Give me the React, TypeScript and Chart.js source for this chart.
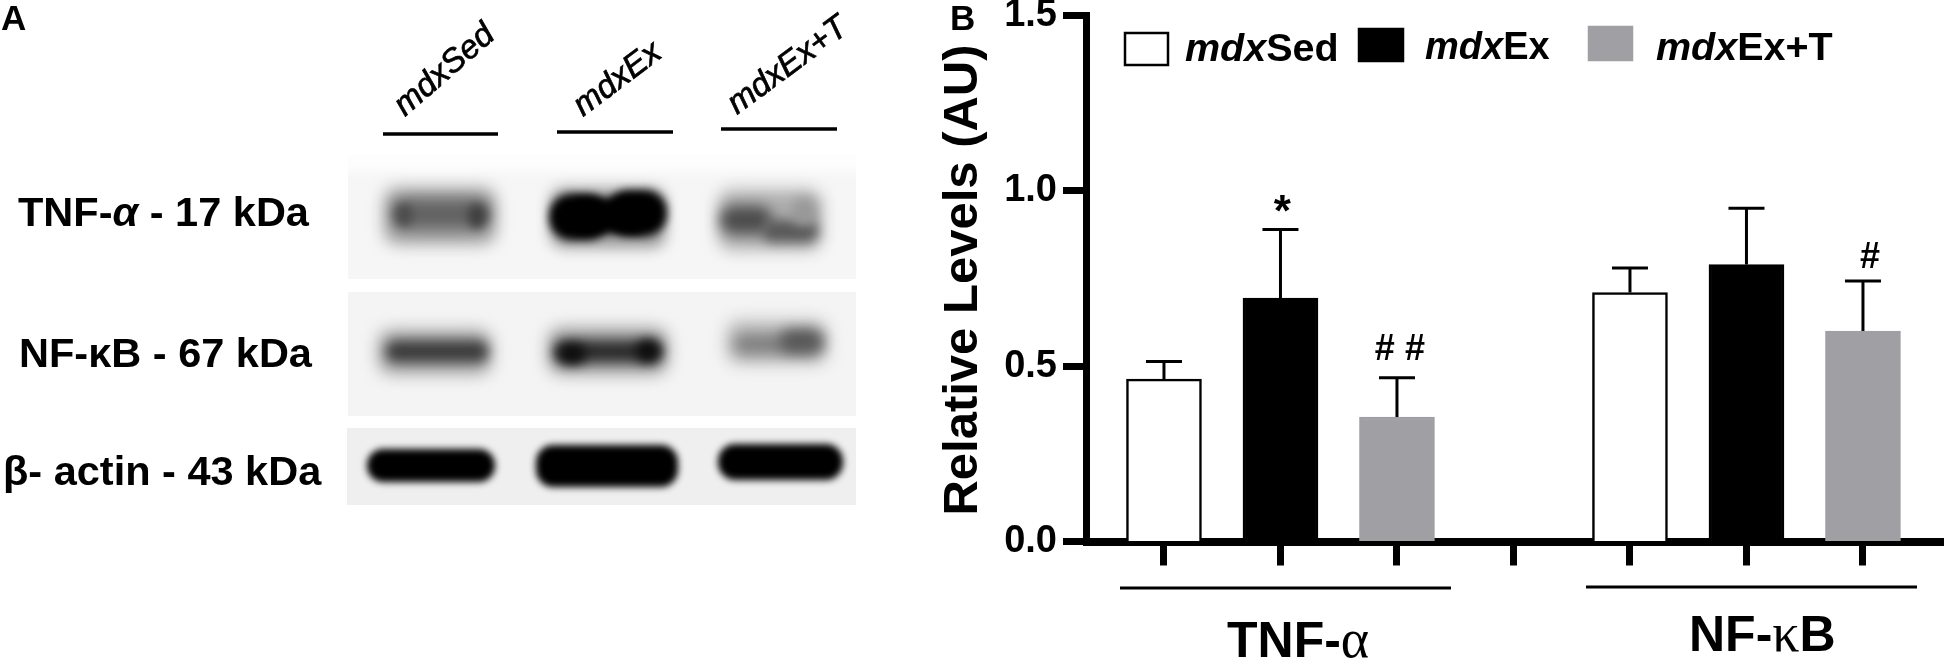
import React, { useEffect, useRef } from "react";
import { Chart, registerables } from "chart.js";

Chart.register(...registerables);

const FONT = '"Liberation Sans", Arial, sans-serif';
const SERIF = '"Liberation Serif", "Times New Roman", serif';

const tickPositions = [1, 2, 3, 4, 5, 6, 7];
const seriesNames = ["mdxSed", "mdxEx", "mdxEx+T"];
const sedX = [1, 5];
const exX = [2, 6];
const exTX = [3, 7];
const sedValues = [0.463, 0.71];
const exValues = [0.694, 0.79];
const exTValues = [0.355, 0.6];
const sedErrTop = [0.513, 0.78];
const exErrTop = [0.89, 0.95];
const exTErrTop = [0.467, 0.743];
const yTicks = [0, 0.5, 1, 1.5];
const notes = [
  { x: 2.015, y: 0.9, text: "*", size: 44 },
  { x: 3.025, y: 0.5175, text: "# #", size: 36 },
  { x: 7.06, y: 0.78, text: "#", size: 36 },
];

function pieces(ctx: CanvasRenderingContext2D, x: number, y: number, parts: [string, string][]) {
  ctx.textAlign = "left";
  ctx.textBaseline = "alphabetic";
  let cx = x;
  parts.forEach(([font, text]) => {
    ctx.font = font;
    ctx.fillText(text, cx, y);
    cx += ctx.measureText(text).width;
  });
}

function band(ctx: CanvasRenderingContext2D, x0: number, y0: number, x1: number, y1: number, col: string, blur: number, r = 14) {
  ctx.filter = `blur(${blur}px)`;
  ctx.fillStyle = col;
  ctx.beginPath();
  ctx.roundRect(x0, y0, x1 - x0, y1 - y0, r);
  ctx.fill();
  ctx.filter = "none";
}

const panelPlugin = {
  id: "panel",
  beforeDraw(chart: any) {
    const ctx: CanvasRenderingContext2D = chart.ctx;
    ctx.save();
    ctx.fillStyle = "#fff";
    ctx.fillRect(0, 0, 1950, 664);

    const clip = (x: number, y: number, w: number, h: number, bg: string, fn: () => void) => {
      ctx.save();
      ctx.beginPath();
      ctx.rect(x, y, w, h);
      ctx.clip();
      ctx.fillStyle = bg;
      ctx.fillRect(x, y, w, h);
      fn();
      ctx.restore();
    };
    clip(348, 155, 508, 124, "#f6f6f6", () => {
      band(ctx, 330, 130, 880, 172, "#fdfdfd", 6, 0);
      band(ctx, 384, 188, 496, 244, "#9c9c9c", 8);
      band(ctx, 392, 200, 490, 228, "#626262", 7);
      band(ctx, 396, 204, 412, 226, "#4c4c4c", 5);
      band(ctx, 468, 204, 486, 228, "#404040", 5);
      band(ctx, 550, 188, 666, 248, "#9a9a9a", 7);
      band(ctx, 549, 194, 610, 240, "#000000", 4, 22);
      band(ctx, 606, 190, 667, 236, "#000000", 4, 22);
      band(ctx, 575, 199, 642, 233, "#000000", 4, 0);
      band(ctx, 718, 190, 822, 250, "#adadad", 8);
      band(ctx, 720, 206, 772, 234, "#4c4c4c", 7);
      band(ctx, 762, 220, 818, 242, "#585858", 6);
      band(ctx, 792, 198, 816, 226, "#989898", 6);
    });
    clip(348, 292, 508, 124, "#f4f4f4", () => {
      band(ctx, 378, 330, 492, 374, "#a0a0a0", 8);
      band(ctx, 386, 341, 488, 362, "#3c3c3c", 6);
      band(ctx, 548, 328, 668, 374, "#989898", 8);
      band(ctx, 554, 341, 662, 362, "#2c2c2c", 6);
      band(ctx, 558, 344, 586, 364, "#0c0c0c", 6);
      band(ctx, 636, 340, 660, 362, "#0c0c0c", 6);
      band(ctx, 726, 320, 828, 364, "#bcbcbc", 8);
      band(ctx, 734, 334, 822, 354, "#808080", 7);
      band(ctx, 780, 330, 822, 352, "#565656", 7);
    });
    clip(347, 428, 509, 77, "#efefef", () => {
      band(ctx, 367, 449, 495, 482, "#000000", 3.5, 16);
      band(ctx, 536, 445, 678, 487, "#000000", 3.5, 17);
      band(ctx, 718, 444, 843, 480, "#000000", 3.5, 17);
    });

    ctx.fillStyle = "#000";
    ctx.textBaseline = "alphabetic";
    ctx.textAlign = "left";
    ctx.font = `bold 35px ${FONT}`;
    ctx.fillText("A", 1, 30);
    ctx.fillText("B", 950, 30);

    const lab = `bold 41.5px ${FONT}`;
    pieces(ctx, 18, 226, [[lab, "TNF-"], [`italic bold 41.5px ${FONT}`, "α"], [lab, " - 17 kDa"]]);
    pieces(ctx, 19, 367, [[lab, "NF-κB - 67 kDa"]]);
    pieces(ctx, 3, 485, [[lab, "β- actin - 43 kDa"]]);

    ctx.strokeStyle = "#000";
    ctx.lineWidth = 3.5;
    const lanes = [[383, 498, 134], [557, 673, 132], [721, 837, 129]];
    const labelsAt = [[405, 117, 41], [583, 117, 37], [737, 115, 36.5]];
    lanes.forEach((l) => {
      ctx.beginPath();
      ctx.moveTo(l[0], l[2]);
      ctx.lineTo(l[1], l[2]);
      ctx.stroke();
    });
    ctx.font = `italic 33px ${FONT}`;
    ctx.lineWidth = 0.7;
    seriesNames.forEach((n, i) => {
      ctx.save();
      ctx.translate(labelsAt[i][0], labelsAt[i][1]);
      ctx.rotate((-labelsAt[i][2] * Math.PI) / 180);
      ctx.textAlign = "left";
      ctx.fillText(n, 0, 0);
      ctx.strokeText(n, 0, 0);
      ctx.restore();
    });

    // legend
    const boxes = [
      [1125, 33, 43, 32, "#fff", "#000"],
      [1359, 29, 44, 32, "#000", "#000"],
      [1589, 27, 43, 33, "#a0a0a4", "#a0a0a4"],
    ] as const;
    boxes.forEach((b) => {
      ctx.fillStyle = b[4];
      ctx.strokeStyle = b[5];
      ctx.lineWidth = 2.5;
      ctx.fillRect(b[0], b[1], b[2], b[3]);
      ctx.strokeRect(b[0], b[1], b[2], b[3]);
    });
    ctx.fillStyle = "#000";
    pieces(ctx, 1185, 61, [[`italic bold 39.5px ${FONT}`, "mdx"], [`bold 39.5px ${FONT}`, "Sed"]]);
    pieces(ctx, 1425, 59, [[`italic bold 38px ${FONT}`, "mdx"], [`bold 38px ${FONT}`, "Ex"]]);
    pieces(ctx, 1656, 60, [[`italic bold 39.5px ${FONT}`, "mdx"], [`bold 39.5px ${FONT}`, "Ex+T"]]);

    // group labels
    ctx.strokeStyle = "#000";
    ctx.lineWidth = 3;
    ctx.beginPath();
    ctx.moveTo(1120, 588);
    ctx.lineTo(1451, 588);
    ctx.moveTo(1586, 587);
    ctx.lineTo(1917, 587);
    ctx.stroke();
    const gb = `bold 50px ${FONT}`;
    const gs = `54px ${SERIF}`;
    pieces(ctx, 1227, 657, [[gb, "TNF-"], [gs, "α"]]);
    pieces(ctx, 1689, 651, [[gb, "NF-"], [gs, "κ"], [gb, "B"]]);

    // axis title
    ctx.save();
    ctx.translate(977, 280);
    ctx.rotate(-Math.PI / 2);
    ctx.font = `bold 49px ${FONT}`;
    ctx.textAlign = "center";
    ctx.fillText("Relative Levels (AU)", 0, 0);
    ctx.restore();
    ctx.restore();
  },
  afterDatasetsDraw(chart: any) {
    const ctx: CanvasRenderingContext2D = chart.ctx;
    const sx = chart.scales.x;
    const sy = chart.scales.y;
    ctx.save();
    ctx.strokeStyle = "#000";
    ctx.lineWidth = 3;
    const sets = [[sedX, sedValues, sedErrTop], [exX, exValues, exErrTop], [exTX, exTValues, exTErrTop]];
    sets.forEach(([xs, vs, es]) => {
      xs.forEach((x, i) => {
        const px = sx.getPixelForValue(x);
        ctx.beginPath();
        ctx.moveTo(px, sy.getPixelForValue(vs[i]));
        ctx.lineTo(px, sy.getPixelForValue(es[i]));
        ctx.moveTo(px - 18, sy.getPixelForValue(es[i]));
        ctx.lineTo(px + 18, sy.getPixelForValue(es[i]));
        ctx.stroke();
      });
    });
    ctx.fillStyle = "#000";
    ctx.textAlign = "center";
    ctx.textBaseline = "alphabetic";
    notes.forEach((n) => {
      ctx.font = `bold ${n.size}px ${FONT}`;
      ctx.fillText(n.text, sx.getPixelForValue(n.x), sy.getPixelForValue(n.y));
    });
    ctx.restore();
  },
};

export default function App() {
  const ref = useRef<HTMLCanvasElement>(null);
  useEffect(() => {
    document.body.style.margin = "0";
    const ds = (name: string, xs: number[], vs: number[], bg: string, border: string) => ({
      label: name,
      data: xs.map((x, i) => ({ x, y: vs[i] })),
      backgroundColor: bg,
      borderColor: border,
      borderWidth: 2.5,
      barThickness: 75,
      grouped: false,
    });
    const chart = new Chart(ref.current as HTMLCanvasElement, {
      type: "bar",
      data: {
        datasets: [
          ds(seriesNames[0], sedX, sedValues, "#ffffff", "#000000"),
          ds(seriesNames[1], exX, exValues, "#000000", "#000000"),
          ds(seriesNames[2], exTX, exTValues, "#a0a0a4", "#a0a0a4"),
        ],
      },
      plugins: [panelPlugin],
      options: {
        animation: false,
        responsive: false,
        layout: { padding: { left: 930, right: 7, top: 15.5, bottom: 0 } },
        plugins: { legend: { display: false }, tooltip: { enabled: false }, title: { display: false } },
        scales: {
          x: {
            type: "linear",
            offset: false,
            z: 1,
            min: 0.335,
            max: 7.687,
            afterBuildTicks: (s: any) => {
              s.ticks = tickPositions.map((value) => ({ value }));
            },
            afterFit: (s: any) => {
              s.height = 122.5;
              s.paddingLeft = 0;
              s.paddingRight = 0;
            },
            border: { display: true, width: 8, color: "#000" },
            grid: { offset: false, drawOnChartArea: false, drawTicks: true, tickLength: 24, tickWidth: 7, tickColor: "#000" },
            ticks: { display: true, callback: () => "", padding: 0 },
          },
          y: {
            min: 0,
            max: 1.5,
            z: 1,
            afterBuildTicks: (s: any) => {
              s.ticks = yTicks.map((value) => ({ value }));
            },
            afterFit: (s: any) => {
              s.width = 156.5;
              s.paddingTop = 0;
              s.paddingBottom = 0;
            },
            border: { display: true, width: 7, color: "#000" },
            grid: { drawOnChartArea: false, drawTicks: true, tickLength: 23.5, tickWidth: 7, tickColor: "#000" },
            ticks: {
              color: "#000",
              font: { family: FONT, weight: "bold", size: 38 },
              padding: 6,
              callback: (v: any) => Number(v).toFixed(1),
            },
          },
        },
      } as any,
    });
    return () => chart.destroy();
  }, []);
  return (
    <div style={{ position: "absolute", left: 0, top: 0, width: 1950, height: 664, overflow: "hidden", background: "#fff" }}>
      <canvas ref={ref} width={1950} height={664} style={{ display: "block" }} />
    </div>
  );
}
